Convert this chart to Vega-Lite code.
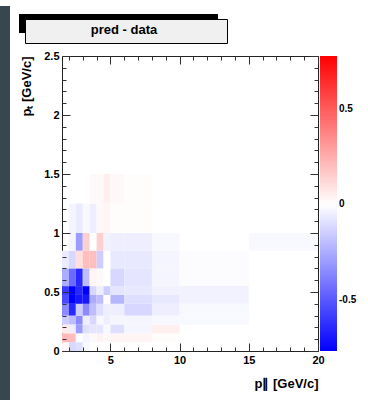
{
  "$schema": "https://vega.github.io/schema/vega-lite/v6.json",
  "background": "white",
  "padding": {"left": 0, "top": 6, "right": 0, "bottom": 0},
  "config": {"font": "Liberation Sans"},
  "spacing": 8,
  "resolve": {"scale": {"color": "independent", "fill": "independent", "stroke": "independent"}, "legend": {"color": "independent", "fill": "independent", "stroke": "independent"}},
  "hconcat": [
    {
      "width": 10, "height": 394,
      "data": {"values": []},
      "mark": "rect",
      "encoding": {},
      "view": {"fill": "#37474f", "stroke": null}
    },
    {
      "spacing": 4,
      "resolve": {"scale": {"color": "independent", "fill": "independent", "stroke": "independent"}, "legend": {"color": "independent", "fill": "independent", "stroke": "independent"}},
      "vconcat": [
        {
          "width": 10, "height": 3,
          "data": {"values": []},
          "mark": "rect",
          "encoding": {},
          "view": {"fill": null, "stroke": null}
        },
        {
          "width": 256, "height": 295,
          "view": {"stroke": "#222222", "strokeWidth": 1},
          "data": {"values": [
            {"x0": 1.5, "x1": 2, "y0": 0, "y1": 0.075, "v": 0.02},
            {"x0": 1.5, "x1": 2, "y0": 0.075, "y1": 0.15, "v": 0.22},
            {"x0": 1.5, "x1": 2, "y0": 0.15, "y1": 0.225, "v": 0.06},
            {"x0": 1.5, "x1": 2, "y0": 0.225, "y1": 0.3, "v": -0.15},
            {"x0": 1.5, "x1": 2, "y0": 0.3, "y1": 0.4, "v": -0.35},
            {"x0": 1.5, "x1": 2, "y0": 0.4, "y1": 0.475, "v": -0.55},
            {"x0": 1.5, "x1": 2, "y0": 0.475, "y1": 0.55, "v": -0.6},
            {"x0": 1.5, "x1": 2, "y0": 0.55, "y1": 0.7, "v": -0.25},
            {"x0": 1.5, "x1": 2, "y0": 0.7, "y1": 0.85, "v": -0.06},

            {"x0": 2, "x1": 2.5, "y0": 0, "y1": 0.075, "v": -0.12},
            {"x0": 2, "x1": 2.5, "y0": 0.075, "y1": 0.15, "v": 0.2},
            {"x0": 2, "x1": 2.5, "y0": 0.15, "y1": 0.225, "v": -0.05},
            {"x0": 2, "x1": 2.5, "y0": 0.225, "y1": 0.3, "v": -0.2},
            {"x0": 2, "x1": 2.5, "y0": 0.3, "y1": 0.4, "v": -0.65},
            {"x0": 2, "x1": 2.5, "y0": 0.4, "y1": 0.475, "v": -0.77},
            {"x0": 2, "x1": 2.5, "y0": 0.475, "y1": 0.55, "v": -0.77},
            {"x0": 2, "x1": 2.5, "y0": 0.55, "y1": 0.7, "v": -0.45},
            {"x0": 2, "x1": 2.5, "y0": 0.7, "y1": 0.85, "v": -0.12},
            {"x0": 2, "x1": 2.5, "y0": 0.85, "y1": 1, "v": -0.03},
            {"x0": 2, "x1": 2.5, "y0": 1, "y1": 1.25, "v": -0.03},

            {"x0": 2.5, "x1": 3, "y0": 0, "y1": 0.075, "v": -0.1},
            {"x0": 2.5, "x1": 3, "y0": 0.075, "y1": 0.15, "v": 0.0},
            {"x0": 2.5, "x1": 3, "y0": 0.15, "y1": 0.225, "v": -0.3},
            {"x0": 2.5, "x1": 3, "y0": 0.225, "y1": 0.3, "v": -0.35},
            {"x0": 2.5, "x1": 3, "y0": 0.3, "y1": 0.4, "v": -0.15},
            {"x0": 2.5, "x1": 3, "y0": 0.4, "y1": 0.475, "v": -0.7},
            {"x0": 2.5, "x1": 3, "y0": 0.475, "y1": 0.55, "v": -0.65},
            {"x0": 2.5, "x1": 3, "y0": 0.55, "y1": 0.7, "v": -0.65},
            {"x0": 2.5, "x1": 3, "y0": 0.7, "y1": 0.85, "v": 0.1},
            {"x0": 2.5, "x1": 3, "y0": 0.85, "y1": 1, "v": -0.3},
            {"x0": 2.5, "x1": 3, "y0": 1, "y1": 1.25, "v": -0.06},

            {"x0": 3, "x1": 3.5, "y0": 0, "y1": 0.075, "v": -0.02},
            {"x0": 3, "x1": 3.5, "y0": 0.075, "y1": 0.15, "v": -0.03},
            {"x0": 3, "x1": 3.5, "y0": 0.15, "y1": 0.225, "v": -0.1},
            {"x0": 3, "x1": 3.5, "y0": 0.225, "y1": 0.3, "v": -0.05},
            {"x0": 3, "x1": 3.5, "y0": 0.3, "y1": 0.4, "v": -0.35},
            {"x0": 3, "x1": 3.5, "y0": 0.4, "y1": 0.475, "v": -0.7},
            {"x0": 3, "x1": 3.5, "y0": 0.475, "y1": 0.55, "v": -0.77},
            {"x0": 3, "x1": 3.5, "y0": 0.55, "y1": 0.7, "v": -0.2},
            {"x0": 3, "x1": 3.5, "y0": 0.7, "y1": 0.85, "v": 0.2},
            {"x0": 3, "x1": 3.5, "y0": 0.85, "y1": 1, "v": 0.15},
            {"x0": 3, "x1": 3.5, "y0": 1, "y1": 1.25, "v": -0.02},

            {"x0": 3.5, "x1": 4, "y0": 0, "y1": 0.075, "v": 0.0},
            {"x0": 3.5, "x1": 4, "y0": 0.075, "y1": 0.15, "v": 0.02},
            {"x0": 3.5, "x1": 4, "y0": 0.15, "y1": 0.225, "v": -0.08},
            {"x0": 3.5, "x1": 4, "y0": 0.225, "y1": 0.3, "v": -0.12},
            {"x0": 3.5, "x1": 4, "y0": 0.3, "y1": 0.4, "v": -0.2},
            {"x0": 3.5, "x1": 4, "y0": 0.4, "y1": 0.475, "v": -0.25},
            {"x0": 3.5, "x1": 4, "y0": 0.475, "y1": 0.55, "v": -0.12},
            {"x0": 3.5, "x1": 4, "y0": 0.55, "y1": 0.7, "v": 0.03},
            {"x0": 3.5, "x1": 4, "y0": 0.7, "y1": 0.85, "v": 0.2},
            {"x0": 3.5, "x1": 4, "y0": 0.85, "y1": 1, "v": 0.0},
            {"x0": 3.5, "x1": 4, "y0": 1, "y1": 1.25, "v": -0.05},
            {"x0": 3.5, "x1": 4, "y0": 1.25, "y1": 1.5, "v": 0.02},

            {"x0": 4, "x1": 4.5, "y0": 0, "y1": 0.075, "v": 0.0},
            {"x0": 4, "x1": 4.5, "y0": 0.075, "y1": 0.15, "v": 0.04},
            {"x0": 4, "x1": 4.5, "y0": 0.15, "y1": 0.225, "v": -0.08},
            {"x0": 4, "x1": 4.5, "y0": 0.225, "y1": 0.3, "v": -0.02},
            {"x0": 4, "x1": 4.5, "y0": 0.3, "y1": 0.4, "v": -0.1},
            {"x0": 4, "x1": 4.5, "y0": 0.4, "y1": 0.475, "v": -0.2},
            {"x0": 4, "x1": 4.5, "y0": 0.475, "y1": 0.55, "v": -0.05},
            {"x0": 4, "x1": 4.5, "y0": 0.55, "y1": 0.7, "v": 0.02},
            {"x0": 4, "x1": 4.5, "y0": 0.7, "y1": 0.85, "v": -0.15},
            {"x0": 4, "x1": 4.5, "y0": 0.85, "y1": 1, "v": 0.15},
            {"x0": 4, "x1": 4.5, "y0": 1, "y1": 1.25, "v": 0.02},
            {"x0": 4, "x1": 4.5, "y0": 1.25, "y1": 1.5, "v": 0.02},

            {"x0": 4.5, "x1": 5, "y0": 0, "y1": 0.075, "v": 0.0},
            {"x0": 4.5, "x1": 5, "y0": 0.075, "y1": 0.15, "v": 0.02},
            {"x0": 4.5, "x1": 5, "y0": 0.15, "y1": 0.225, "v": -0.02},
            {"x0": 4.5, "x1": 5, "y0": 0.225, "y1": 0.3, "v": -0.05},
            {"x0": 4.5, "x1": 5, "y0": 0.3, "y1": 0.4, "v": -0.05},
            {"x0": 4.5, "x1": 5, "y0": 0.4, "y1": 0.475, "v": 0.0},
            {"x0": 4.5, "x1": 5, "y0": 0.475, "y1": 0.55, "v": -0.15},
            {"x0": 4.5, "x1": 5, "y0": 0.55, "y1": 0.7, "v": 0.0},
            {"x0": 4.5, "x1": 5, "y0": 0.7, "y1": 0.85, "v": 0.0},
            {"x0": 4.5, "x1": 5, "y0": 0.85, "y1": 1, "v": -0.04},
            {"x0": 4.5, "x1": 5, "y0": 1, "y1": 1.25, "v": 0.03},
            {"x0": 4.5, "x1": 5, "y0": 1.25, "y1": 1.5, "v": 0.05},

            {"x0": 5, "x1": 6, "y0": 0, "y1": 0.075, "v": 0.0},
            {"x0": 5, "x1": 6, "y0": 0.075, "y1": 0.15, "v": 0.03},
            {"x0": 5, "x1": 6, "y0": 0.15, "y1": 0.225, "v": -0.1},
            {"x0": 5, "x1": 6, "y0": 0.225, "y1": 0.3, "v": -0.03},
            {"x0": 5, "x1": 6, "y0": 0.3, "y1": 0.4, "v": -0.05},
            {"x0": 5, "x1": 6, "y0": 0.4, "y1": 0.475, "v": -0.22},
            {"x0": 5, "x1": 6, "y0": 0.475, "y1": 0.55, "v": -0.08},
            {"x0": 5, "x1": 6, "y0": 0.55, "y1": 0.7, "v": -0.12},
            {"x0": 5, "x1": 6, "y0": 0.7, "y1": 0.85, "v": -0.07},
            {"x0": 5, "x1": 6, "y0": 0.85, "y1": 1, "v": -0.05},
            {"x0": 5, "x1": 6, "y0": 1, "y1": 1.25, "v": 0.01},
            {"x0": 5, "x1": 6, "y0": 1.25, "y1": 1.5, "v": 0.02},

            {"x0": 6, "x1": 8, "y0": 0, "y1": 0.075, "v": 0.0},
            {"x0": 6, "x1": 8, "y0": 0.075, "y1": 0.15, "v": 0.03},
            {"x0": 6, "x1": 8, "y0": 0.15, "y1": 0.225, "v": -0.03},
            {"x0": 6, "x1": 8, "y0": 0.225, "y1": 0.3, "v": -0.03},
            {"x0": 6, "x1": 8, "y0": 0.3, "y1": 0.4, "v": -0.12},
            {"x0": 6, "x1": 8, "y0": 0.4, "y1": 0.475, "v": -0.1},
            {"x0": 6, "x1": 8, "y0": 0.475, "y1": 0.55, "v": -0.07},
            {"x0": 6, "x1": 8, "y0": 0.55, "y1": 0.7, "v": -0.08},
            {"x0": 6, "x1": 8, "y0": 0.7, "y1": 0.85, "v": -0.07},
            {"x0": 6, "x1": 8, "y0": 0.85, "y1": 1, "v": -0.05},
            {"x0": 6, "x1": 8, "y0": 1, "y1": 1.25, "v": 0.01},
            {"x0": 6, "x1": 8, "y0": 1.25, "y1": 1.5, "v": 0.01},

            {"x0": 8, "x1": 10, "y0": 0, "y1": 0.075, "v": 0.0},
            {"x0": 8, "x1": 10, "y0": 0.075, "y1": 0.15, "v": 0.01},
            {"x0": 8, "x1": 10, "y0": 0.15, "y1": 0.225, "v": 0.05},
            {"x0": 8, "x1": 10, "y0": 0.225, "y1": 0.3, "v": -0.02},
            {"x0": 8, "x1": 10, "y0": 0.3, "y1": 0.4, "v": -0.05},
            {"x0": 8, "x1": 10, "y0": 0.4, "y1": 0.475, "v": -0.07},
            {"x0": 8, "x1": 10, "y0": 0.475, "y1": 0.55, "v": -0.04},
            {"x0": 8, "x1": 10, "y0": 0.55, "y1": 0.7, "v": -0.03},
            {"x0": 8, "x1": 10, "y0": 0.7, "y1": 0.85, "v": -0.03},
            {"x0": 8, "x1": 10, "y0": 0.85, "y1": 1, "v": -0.02},
            {"x0": 8, "x1": 10, "y0": 1, "y1": 1.25, "v": 0.0},

            {"x0": 10, "x1": 15, "y0": 0.225, "y1": 0.3, "v": -0.02},
            {"x0": 10, "x1": 15, "y0": 0.3, "y1": 0.4, "v": -0.02},
            {"x0": 10, "x1": 15, "y0": 0.4, "y1": 0.475, "v": -0.04},
            {"x0": 10, "x1": 15, "y0": 0.475, "y1": 0.55, "v": -0.04},
            {"x0": 10, "x1": 15, "y0": 0.55, "y1": 0.7, "v": -0.01},
            {"x0": 10, "x1": 15, "y0": 0.7, "y1": 0.85, "v": -0.01},

            {"x0": 15, "x1": 20, "y0": 0.85, "y1": 1, "v": -0.02}
          ]},
          "resolve": {"axis": {"x": "independent", "y": "independent"}},
          "layer": [
            {
              "mark": {"type": "rect"},
              "encoding": {
                "x": {
                  "field": "x0", "type": "quantitative",
                  "scale": {"domain": [1.5, 20], "nice": false, "zero": false},
                  "axis": {
                    "orient": "bottom", "zindex": 1,
                    "values": [5, 10, 15, 20],
                    "labelExpr": "format(datum.value, '~g')",
                    "tickSize": -8, "tickColor": "#333333",
                    "domain": false, "grid": false,
                    "labelFont": "Liberation Sans", "labelFontWeight": "bold", "labelFontSize": 11,
                    "labelColor": "black", "labelPadding": 11, "labelFlush": false,
                    "title": "p∥ [GeV/c]", "titleAnchor": "end",
                    "titleFont": "Liberation Sans", "titleFontSize": 13, "titleFontWeight": "bold",
                    "titleColor": "black", "titlePadding": 12
                  }
                },
                "x2": {"field": "x1"},
                "y": {
                  "field": "y0", "type": "quantitative",
                  "scale": {"domain": [0, 2.5], "nice": false, "zero": false},
                  "axis": {
                    "orient": "left", "zindex": 1,
                    "values": [0, 0.5, 1, 1.5, 2, 2.5],
                    "labelExpr": "format(datum.value, '~g')",
                    "tickSize": -8, "tickColor": "#333333",
                    "domain": false, "grid": false,
                    "labelFont": "Liberation Sans", "labelFontWeight": "bold", "labelFontSize": 11,
                    "labelColor": "black", "labelPadding": 11, "labelFlush": false,
                    "title": "pₜ [GeV/c]", "titleAnchor": "end",
                    "titleFont": "Liberation Sans", "titleFontSize": 13, "titleFontWeight": "bold",
                    "titleColor": "black", "titlePadding": 10
                  }
                },
                "y2": {"field": "y1"},
                "color": {
                  "field": "v", "type": "quantitative",
                  "scale": {"domain": [-0.77, 0, 0.78], "range": ["#0000ff", "#ffffff", "#ff0000"], "interpolate": "rgb"},
                  "legend": {
                    "title": null, "orient": "right", "offset": 1, "padding": 0,
                    "direction": "vertical",
                    "gradientLength": 295, "gradientThickness": 17, "gradientStrokeWidth": 0,
                    "values": [-0.5, 0, 0.5],
                    "labelExpr": "datum.value < 0 ? '-' + format(-datum.value, '~g') : format(datum.value, '~g')",
                    "labelFont": "Liberation Sans", "labelFontWeight": "bold", "labelFontSize": 10,
                    "labelColor": "black", "labelOffset": 2
                  }
                }
              }
            },
            {
              "mark": {"type": "rect", "opacity": 0},
              "encoding": {
                "x": {
                  "field": "x0", "type": "quantitative",
                  "axis": {
                    "orient": "bottom", "zindex": 1,
                    "values": [2,3,4,6,7,8,9,11,12,13,14,16,17,18,19],
                    "labels": false, "tickSize": -4, "tickColor": "#333333",
                    "domain": false, "grid": false, "title": null
                  }
                },
                "x2": {"field": "x1"},
                "y": {
                  "field": "y0", "type": "quantitative",
                  "axis": {
                    "orient": "left", "zindex": 1,
                    "values": [0.1,0.2,0.3,0.4,0.6,0.7,0.8,0.9,1.1,1.2,1.3,1.4,1.6,1.7,1.8,1.9,2.1,2.2,2.3,2.4],
                    "labels": false, "tickSize": -4, "tickColor": "#333333",
                    "domain": false, "grid": false, "title": null
                  }
                },
                "y2": {"field": "y1"},
                "fill": {
                  "field": "v", "type": "quantitative",
                  "scale": {"range": ["#f0f0f0", "#f0f0f0"]},
                  "legend": {
                    "title": "pred - data",
                    "orient": "top-left", "offset": -37, "zindex": 2,
                    "direction": "horizontal",
                    "gradientLength": 192, "gradientThickness": 1,
                    "gradientStrokeWidth": 0, "gradientOpacity": 0,
                    "values": [],
                    "fillColor": "#f0f0f0", "strokeColor": "black",
                    "padding": 5,
                    "titleFont": "Liberation Sans", "titleFontSize": 13, "titleFontWeight": "bold",
                    "titleColor": "black", "titleAnchor": "middle", "titlePadding": 0
                  }
                }
              }
            },
            {
              "mark": {"type": "rect", "opacity": 0},
              "encoding": {
                "x": {
                  "field": "x0", "type": "quantitative",
                  "axis": {
                    "orient": "top", "zindex": 1,
                    "values": [5, 10, 15, 20],
                    "labels": false, "tickSize": -8, "tickColor": "#333333",
                    "domain": false, "grid": false, "title": null
                  }
                },
                "x2": {"field": "x1"},
                "y": {
                  "field": "y0", "type": "quantitative",
                  "axis": {
                    "orient": "right", "zindex": 1,
                    "values": [0, 0.5, 1, 1.5, 2, 2.5],
                    "labels": false, "tickSize": -8, "tickColor": "#333333",
                    "domain": false, "grid": false, "title": null
                  }
                },
                "y2": {"field": "y1"},
                "stroke": {
                  "field": "v", "type": "quantitative",
                  "scale": {"range": ["#000000", "#000000"]},
                  "legend": {
                    "title": null,
                    "orient": "none", "legendX": -43, "legendY": -42, "zindex": 1,
                    "direction": "horizontal",
                    "gradientLength": 199, "gradientThickness": 19,
                    "gradientStrokeWidth": 0,
                    "values": [],
                    "padding": 0
                  }
                }
              }
            },
            {
              "mark": {"type": "rect", "opacity": 0},
              "encoding": {
                "x": {
                  "field": "x0", "type": "quantitative",
                  "axis": {
                    "orient": "top", "zindex": 1,
                    "values": [2,3,4,6,7,8,9,11,12,13,14,16,17,18,19],
                    "labels": false, "tickSize": -4, "tickColor": "#333333",
                    "domain": false, "grid": false, "title": null
                  }
                },
                "x2": {"field": "x1"},
                "y": {
                  "field": "y0", "type": "quantitative",
                  "axis": {
                    "orient": "right", "zindex": 1,
                    "values": [0.1,0.2,0.3,0.4,0.6,0.7,0.8,0.9,1.1,1.2,1.3,1.4,1.6,1.7,1.8,1.9,2.1,2.2,2.3,2.4],
                    "labels": false, "tickSize": -4, "tickColor": "#333333",
                    "domain": false, "grid": false, "title": null
                  }
                },
                "y2": {"field": "y1"}
              }
            }
          ]
        }
      ]
    }
  ]
}
